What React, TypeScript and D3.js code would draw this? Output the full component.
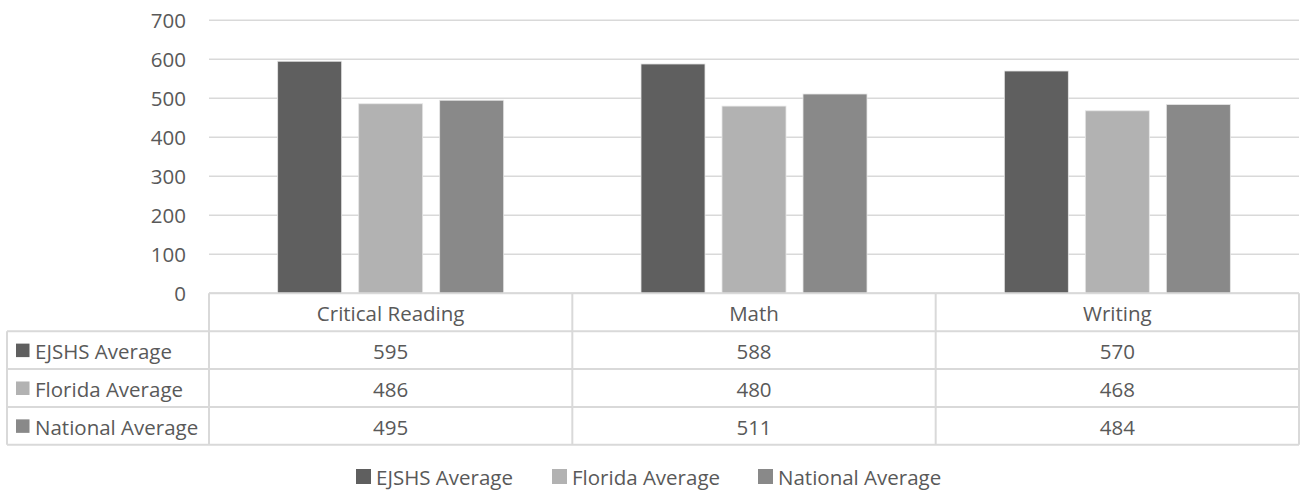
import React from "react";
import * as d3 from "d3";

const categories = ["Critical Reading", "Math", "Writing"];
const seriesNames = ["EJSHS Average", "Florida Average", "National Average"];
const ejshs = [595, 588, 570];
const florida = [486, 480, 468];
const national = [495, 511, 484];
const yTicks = [0, 100, 200, 300, 400, 500, 600, 700];

const seriesValues = [ejshs, florida, national];
const colors = ["#5f5f5f", "#b2b2b2", "#898989"];

const W = 1304;
const H = 491;
const FONT = "'Open Sans', sans-serif";
const TXT = "#595959";
const GRID = "#d9d9d9";

export default function App() {
  const plotLeft = 209;
  const plotRight = 1299;
  const y = d3.scaleLinear().domain([0, 700]).range([293.3, 20.3]);
  const x0 = d3.scaleBand<string>().domain(categories).range([plotLeft, plotRight]);
  const groupW = 226;
  const x1 = d3
    .scaleBand<string>()
    .domain(seriesNames)
    .range([0, groupW])
    .paddingInner(0.21)
    .paddingOuter(0);
  const groupOffset = (x0.bandwidth() - groupW) / 2;

  const rows = d3
    .scaleBand<string>()
    .domain(["header", ...seriesNames])
    .range([293.3, 444.8]);
  const tableLeft = 7;
  const rowH = rows.bandwidth();
  const tableBottom = 444.8;

  const fs = 20.5;
  const legendX0 = 356;
  const legendY = 476;
  const legendTextWidths = [139, 149, 163];
  const legendXs: number[] = [];
  let lx = legendX0;
  legendTextWidths.forEach((w) => {
    legendXs.push(lx);
    lx += 15 + 5 + w + 37;
  });

  return (
    <svg
      width={W}
      height={H}
      style={{ position: "absolute", left: 0, top: 0, background: "#fff" }}
      fontFamily={FONT}
    >
      {yTicks.map((t) => (
        <line
          key={"g" + t}
          x1={plotLeft}
          x2={plotRight}
          y1={y(t)}
          y2={y(t)}
          stroke={GRID}
          strokeWidth={1.5}
        />
      ))}
      {yTicks.map((t) => (
        <text
          key={"yl" + t}
          x={186}
          y={y(t)}
          textAnchor="end"
          dominantBaseline="central"
          fontSize={fs}
          fill={TXT}
        >
          {t}
        </text>
      ))}
      {categories.map((c, ci) =>
        seriesNames.map((s, si) => {
          const v = seriesValues[si][ci];
          const bx = (x0(c) as number) + groupOffset + (x1(s) as number);
          return (
            <rect
              key={c + s}
              x={bx}
              y={y(v)}
              width={x1.bandwidth()}
              height={y(0) - y(v)}
              fill={colors[si]}
              stroke="#e6e6e6"
              strokeWidth={0.8}
            />
          );
        })
      )}
      <g stroke={GRID} strokeWidth={2} fill="none">
        <line x1={plotLeft} x2={plotRight} y1={rows("header")!} y2={rows("header")!} />
        {seriesNames.map((s) => (
          <line key={"hl" + s} x1={tableLeft} x2={plotRight} y1={rows(s)!} y2={rows(s)!} />
        ))}
        <line x1={tableLeft} x2={plotRight} y1={tableBottom} y2={tableBottom} />
        <line x1={tableLeft} x2={tableLeft} y1={rows(seriesNames[0])!} y2={tableBottom} />
        {categories.map((c) => (
          <line key={"vl" + c} x1={x0(c)!} x2={x0(c)!} y1={rows("header")!} y2={tableBottom} />
        ))}
        <line x1={plotRight} x2={plotRight} y1={rows("header")!} y2={tableBottom} />
      </g>
      {categories.map((c) => (
        <text
          key={"h" + c}
          x={(x0(c) as number) + x0.bandwidth() / 2}
          y={(rows("header") as number) + rowH / 2 + 1}
          textAnchor="middle"
          dominantBaseline="central"
          fontSize={fs}
          fill={TXT}
        >
          {c}
        </text>
      ))}
      {seriesNames.map((s, si) => {
        const ry = (rows(s) as number) + rowH / 2;
        return (
          <g key={"r" + s}>
            <rect x={16} y={ry - 6.5} width={13.5} height={13.5} fill={colors[si]} />
            <text x={35} y={ry + 1} dominantBaseline="central" fontSize={fs} fill={TXT}>
              {s}
            </text>
            {categories.map((c, ci) => (
              <text
                key={"v" + c}
                x={(x0(c) as number) + x0.bandwidth() / 2}
                y={ry + 1}
                textAnchor="middle"
                dominantBaseline="central"
                fontSize={fs}
                fill={TXT}
              >
                {seriesValues[si][ci]}
              </text>
            ))}
          </g>
        );
      })}
      {seriesNames.map((s, si) => (
        <g key={"lg" + s}>
          <rect x={legendXs[si]} y={legendY - 7} width={15} height={15} fill={colors[si]} />
          <text
            x={legendXs[si] + 20}
            y={legendY + 1}
            dominantBaseline="central"
            fontSize={fs}
            fill={TXT}
          >
            {s}
          </text>
        </g>
      ))}
    </svg>
  );
}
